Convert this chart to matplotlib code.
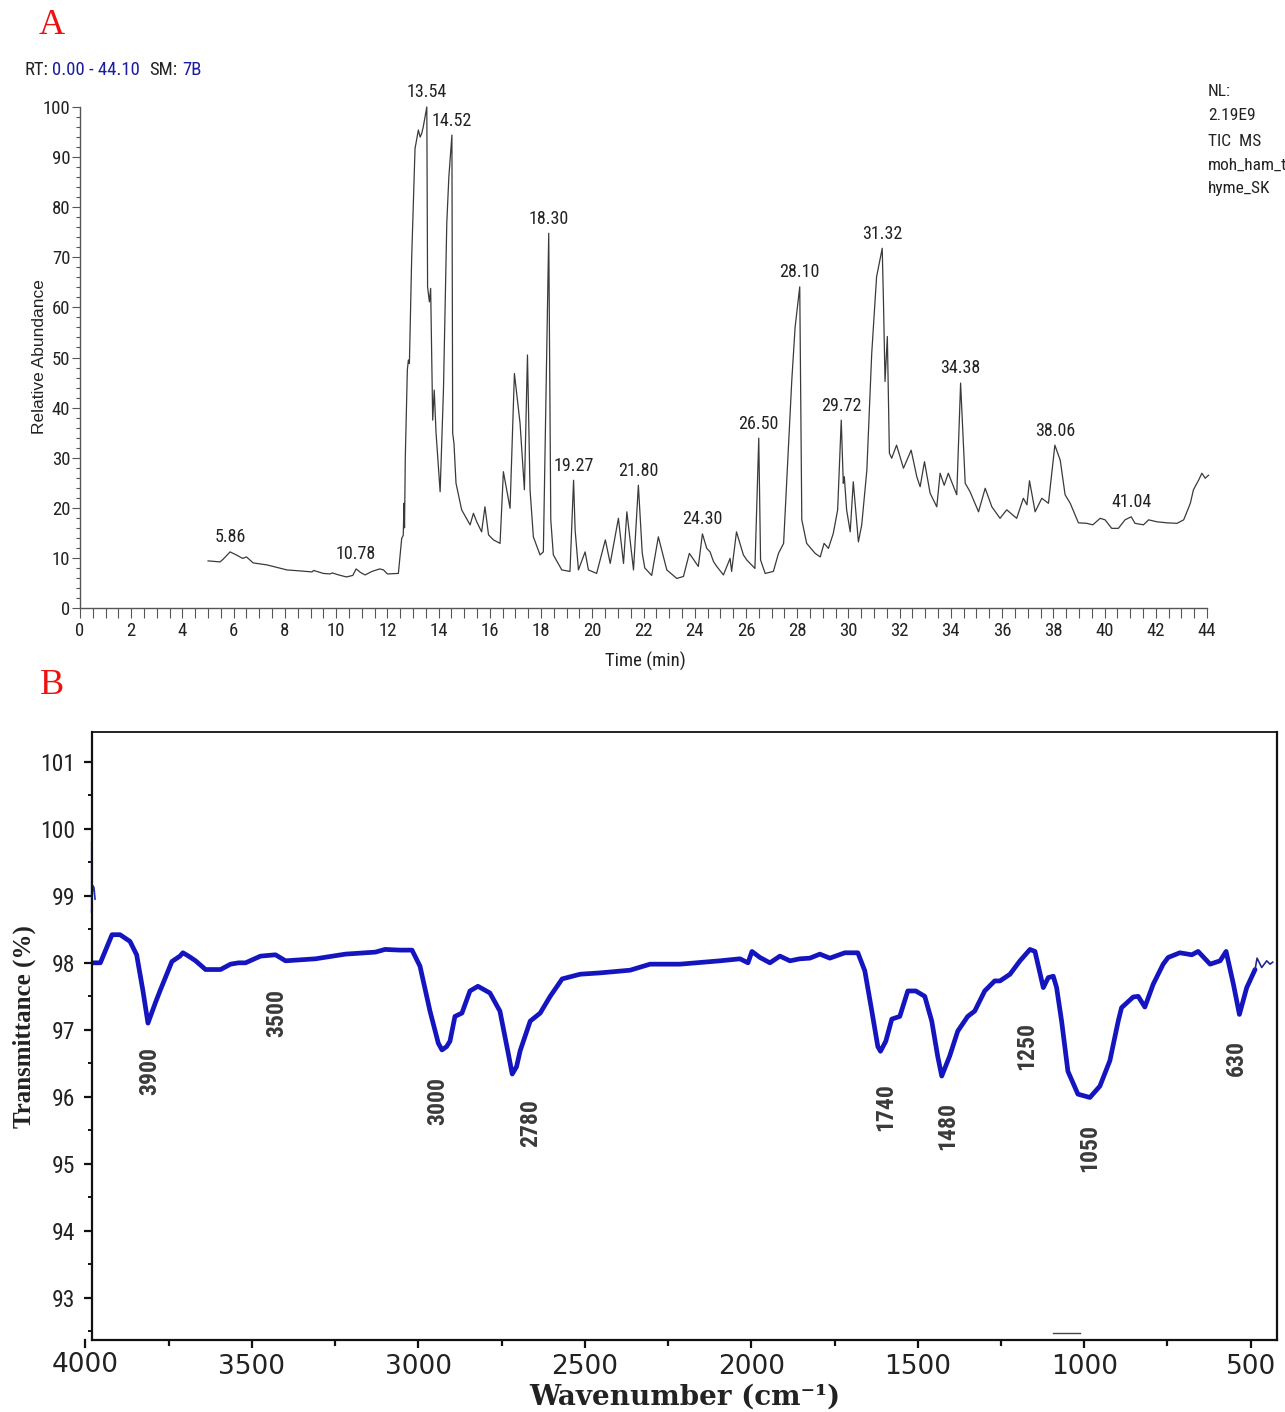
import matplotlib
matplotlib.use("Agg")
import matplotlib.pyplot as plt
from matplotlib.ticker import MultipleLocator, FixedLocator
from matplotlib import font_manager
from matplotlib.font_manager import FontProperties
import numpy as np

# ---------------- data: panel A (GC-MS TIC) ----------------
time_min = [5.00, 5.47, 5.60, 5.86, 6.10, 6.35, 6.50, 6.76, 7.30, 8.08, 8.60, 9.06, 9.12, 9.50,
            9.76, 9.85, 10.10, 10.40, 10.65, 10.78, 10.95, 11.13, 11.40, 11.70, 11.85, 12.00,
            12.43, 12.56, 12.62, 12.65, 12.67, 12.70, 12.78, 12.82, 12.86, 12.95, 13.08, 13.21,
            13.28, 13.34, 13.40, 13.54, 13.57, 13.64, 13.69, 13.77, 13.83, 13.90, 14.06, 14.19,
            14.32, 14.40, 14.52, 14.55, 14.60, 14.68, 14.90, 15.23, 15.36, 15.49, 15.68, 15.81,
            15.95, 16.14, 16.40, 16.53, 16.79, 16.96, 17.18, 17.35, 17.47, 17.57, 17.70, 17.96,
            18.09, 18.30, 18.38, 18.48, 18.81, 19.13, 19.27, 19.33, 19.46, 19.72, 19.85, 20.17,
            20.51, 20.70, 21.02, 21.22, 21.35, 21.61, 21.80, 21.95, 22.05, 22.32, 22.58, 22.91,
            23.30, 23.56, 23.79, 24.14, 24.30, 24.47, 24.60, 24.73, 24.86, 25.12, 25.38, 25.44,
            25.63, 25.90, 26.03, 26.22, 26.35, 26.50, 26.57, 26.75, 27.07, 27.27, 27.47, 27.66,
            27.79, 27.92, 28.10, 28.18, 28.37, 28.70, 28.90, 29.05, 29.22, 29.41, 29.58, 29.72,
            29.80, 29.84, 29.93, 30.07, 30.19, 30.39, 30.52, 30.72, 30.91, 31.10, 31.32, 31.37,
            31.43, 31.52, 31.60, 31.69, 31.88, 32.15, 32.45, 32.67, 32.80, 32.97, 33.19, 33.45,
            33.58, 33.74, 33.90, 34.23, 34.38, 34.56, 34.75, 35.08, 35.34, 35.60, 35.92, 36.18,
            36.57, 36.83, 36.97, 37.07, 37.29, 37.55, 37.81, 38.06, 38.27, 38.46, 38.66, 38.98,
            39.31, 39.54, 39.83, 40.02, 40.28, 40.54, 40.80, 41.04, 41.19, 41.52, 41.72, 42.05,
            42.44, 42.83, 43.09, 43.35, 43.47, 43.67, 43.80, 43.93, 44.06]
abundance = [9.4, 9.2, 9.8, 11.2, 10.6, 9.9, 10.2, 9.0, 8.6, 7.6, 7.4, 7.2, 7.5, 6.9,
             6.8, 7.0, 6.6, 6.2, 6.5, 7.8, 7.1, 6.6, 7.3, 7.8, 7.6, 6.8,
             6.9, 13.9, 14.5, 20.9, 16.0, 30.0, 47.5, 49.5, 48.8, 70.0, 91.7, 95.4,
             94.0, 94.7, 96.0, 100.0, 64.1, 61.1, 63.8, 37.5, 43.5, 35.0, 23.2, 43.5,
             76.8, 86.0, 94.4, 34.9, 32.9, 24.9, 19.6, 16.6, 18.9, 17.2, 15.2, 20.2,
             14.6, 13.6, 12.9, 27.2, 19.9, 46.8, 36.9, 23.6, 50.5, 23.6, 14.2, 10.6,
             11.2, 74.8, 17.6, 10.6, 7.6, 7.3, 25.5, 15.6, 7.6, 11.2, 7.6, 6.9,
             13.6, 8.9, 17.9, 8.9, 19.2, 7.6, 24.5, 11.0, 8.0, 6.5, 14.2, 7.6,
             5.9, 6.3, 10.9, 8.3, 14.8, 11.9, 11.2, 9.3, 8.3, 6.6, 9.9, 7.3,
             15.2, 10.6, 9.6, 8.6, 7.9, 33.9, 9.6, 6.9, 7.3, 10.9, 12.9, 32.2,
             45.5, 56.1, 64.1, 17.6, 12.9, 10.9, 10.2, 12.9, 11.9, 14.9, 19.6, 37.5,
             24.9, 26.2, 19.6, 15.2, 25.2, 13.2, 16.6, 27.5, 50.8, 66.1, 71.8, 60.8,
             45.2, 54.2, 30.9, 29.9, 32.5, 27.9, 31.5, 26.2, 24.2, 29.2, 22.9, 20.2,
             26.9, 24.5, 26.9, 22.6, 44.9, 24.9, 23.2, 19.2, 23.9, 20.2, 17.9, 19.6,
             17.9, 21.9, 20.6, 25.4, 19.2, 21.9, 20.9, 32.5, 29.5, 22.6, 20.9, 17.0,
             16.9, 16.6, 17.9, 17.6, 15.9, 15.9, 17.6, 18.2, 16.9, 16.6, 17.6, 17.2,
             17.0, 16.9, 17.6, 20.9, 23.6, 25.5, 26.9, 25.9, 26.5]
peak_labels = [5.86, 10.78, 13.54, 14.52, 18.30, 19.27, 21.80, 24.30, 26.50, 28.10,
               29.72, 31.32, 34.38, 38.06, 41.04]
a_xticks = list(range(0, 45, 2))
a_yticks = list(range(0, 101, 10))

# ---------------- data: panel B (FTIR) ----------------
wn_start = [3981, 3981, 3979, 3977, 3974, 3971]
tr_start = [99.80, 98.75, 99.05, 99.15, 99.12, 98.95]
wavenumber = [3981, 3955, 3930, 3920, 3896, 3866, 3846, 3827, 3812, 3790, 3776, 3740, 3716,
              3707, 3690, 3669, 3639, 3594, 3564, 3540, 3519, 3474, 3429, 3399, 3309, 3219,
              3129, 3100, 3055, 3019, 2995, 2965, 2940, 2929, 2915, 2905, 2890, 2869, 2845,
              2821, 2785, 2755, 2730, 2718, 2705, 2694, 2664, 2634, 2604, 2568, 2514, 2454,
              2364, 2304, 2214, 2094, 2034, 2010, 1998, 1974, 1944, 1914, 1884, 1854, 1824,
              1794, 1764, 1719, 1680, 1659, 1638, 1620, 1612, 1596, 1578, 1554, 1530, 1506,
              1479, 1458, 1440, 1428, 1404, 1380, 1350, 1329, 1299, 1269, 1253, 1223, 1193,
              1163, 1148, 1123, 1108, 1093, 1083, 1068, 1049, 1019, 983, 953, 923, 898, 888,
              853, 838, 818, 793, 763, 748, 713, 677, 658, 622, 592, 574, 552, 534, 512, 487]
transmittance = [98.00, 98.00, 98.30, 98.42, 98.42, 98.32, 98.12, 97.58, 97.10, 97.40, 97.58,
                 98.02, 98.10, 98.15, 98.10, 98.03, 97.90, 97.90, 97.98, 98.00, 98.00, 98.10,
                 98.12, 98.03, 98.06, 98.13, 98.16, 98.20, 98.19, 98.19, 97.95, 97.28, 96.80,
                 96.70, 96.75, 96.83, 97.20, 97.25, 97.58, 97.65, 97.55, 97.28, 96.65, 96.34,
                 96.45, 96.69, 97.13, 97.25, 97.50, 97.76, 97.83, 97.85, 97.89, 97.98, 97.98,
                 98.03, 98.06, 98.00, 98.17, 98.08, 98.00, 98.10, 98.03, 98.06, 98.07, 98.13,
                 98.07, 98.15, 98.15, 97.88, 97.28, 96.75, 96.68, 96.83, 97.16, 97.20, 97.58,
                 97.58, 97.50, 97.13, 96.60, 96.31, 96.61, 96.98, 97.20, 97.28, 97.58, 97.73,
                 97.73, 97.83, 98.03, 98.20, 98.17, 97.63, 97.78, 97.80, 97.63, 97.13, 96.38,
                 96.04, 95.99, 96.16, 96.54, 97.13, 97.33, 97.49, 97.50, 97.34, 97.68, 97.98,
                 98.08, 98.15, 98.12, 98.17, 97.98, 98.03, 98.17, 97.68, 97.23, 97.63, 97.90]
wn_tail = [487, 481, 467, 452, 442, 434]
tr_tail = [97.90, 98.07, 97.93, 98.03, 97.98, 98.01]
b_labels = ["3900", "3500", "3000", "2780", "1740", "1480", "1250", "1050", "630"]
b_label_x = [3806, 3425, 2943, 2664, 1595, 1409, 1172, 983, 542]
b_label_y = [96.39, 97.25, 95.94, 95.61, 95.84, 95.57, 96.76, 95.23, 96.58]
b_xticks = [3500, 3000, 2500, 2000, 1500, 1000, 500]
b_xtick_outside = 4000
b_yticks = [93, 94, 95, 96, 97, 98, 99, 100, 101]
mark_wn = [1094, 1013]
mark_tr = [92.48, 92.48]

# ---------------- fonts ----------------
COND_VALUES = {'condensed', 'semi-condensed', 'extra-condensed', 'ultra-condensed'}


def _weight(f):
    w = f.weight
    if isinstance(w, str):
        w = font_manager.weight_dict.get(w, 400)
    return int(w)


def find_condensed(bold=False):
    cands = []
    for f in font_manager.fontManager.ttflist:
        nm = f.name
        st = str(f.stretch)
        is_cond = (st in COND_VALUES) or ('Narrow' in nm) or ('Condensed' in nm)
        if not is_cond or f.style != 'normal':
            continue
        if 'Mono' in nm or 'Serif' in nm:
            continue
        w = _weight(f)
        if bold and w < 600:
            continue
        if not bold and not (350 <= w <= 500):
            continue
        if st in ('extra-condensed', 'ultra-condensed'):
            continue
        cands.append(f)
    prefs = ['Liberation Sans Narrow', 'Arimo', 'Roboto', 'Open Sans', 'Noto Sans', 'DejaVu Sans']
    for p in prefs:
        for f in cands:
            if f.name.startswith(p):
                return f.fname
    return cands[0].fname if cands else None


cond_path = find_condensed(False)
condb_path = find_condensed(True)


def FP(size, bold=False):
    path = condb_path if bold else cond_path
    if path:
        return FontProperties(fname=path, size=size)
    return FontProperties(family='Liberation Sans', size=size * 0.88,
                          weight='bold' if bold else 'normal')


W, H = 1285, 1412
fig = plt.figure(figsize=(W / 100, H / 100), dpi=100)
fig.patch.set_facecolor('white')


def fx(px):
    return px / W


def fy(py):
    return 1 - py / H


# ---------------- panel A ----------------
axA = fig.add_axes([fx(80), fy(608), (1207 - 80) / W, (608 - 107) / H])
axA.plot(time_min, abundance, color='#3a3a3a', lw=0.9, clip_on=False)
axA.set_xlim(0, 44)
axA.set_ylim(0, 100)
for s in ['top', 'right']:
    axA.spines[s].set_visible(False)
for s in ['left', 'bottom']:
    axA.spines[s].set_color('#555555')
    axA.spines[s].set_linewidth(1.0)
axA.xaxis.set_major_locator(FixedLocator(a_xticks))
axA.xaxis.set_minor_locator(MultipleLocator(0.5))
axA.yaxis.set_major_locator(FixedLocator(a_yticks))
axA.yaxis.set_minor_locator(MultipleLocator(2))
axA.tick_params(axis='x', which='both', direction='out', length=7, width=0.8,
                color='#555555', labelcolor='#222222', pad=3)
axA.tick_params(axis='y', which='major', direction='out', length=6, width=0.8,
                color='#555555', labelcolor='#222222', pad=1)
axA.tick_params(axis='y', which='minor', direction='out', length=3, width=0.8, color='#555555')
axA.set_xticklabels([str(v) for v in a_xticks], fontproperties=FP(13.5))
axA.set_yticklabels([str(v) for v in a_yticks], fontproperties=FP(13.5))

t_arr = np.array(time_min)
ab_arr = np.array(abundance)
for lab in peak_labels:
    i = int(np.argmin(np.abs(t_arr - lab)))
    axA.annotate(f"{lab:.2f}", xy=(lab, ab_arr[i]), xytext=(0, 4), textcoords='offset points',
                 ha='center', va='bottom', fontproperties=FP(13), color='#222222',
                 annotation_clip=False)

fig.text(fx(40), fy(357), 'Relative Abundance', rotation=90, ha='center', va='center',
         fontsize=12.5, family='Liberation Sans', color='#222222')
fig.text(fx(645), fy(661), 'Time (min)', ha='center', va='center', fontproperties=FP(13.5),
         color='#222222')

# header, pieces chained one after another
h1 = fig.text(fx(25), fy(70), 'RT:', ha='left', va='center', fontproperties=FP(13.5),
              color='#222222')
h2 = fig.text(fx(52), fy(70), '0.00 - 44.10', ha='left', va='center', fontproperties=FP(13.5),
              color='#1c1ca0')
h3 = fig.text(fx(137), fy(70), 'SM:', ha='left', va='center', fontproperties=FP(13.5),
              color='#222222')
h4 = fig.text(fx(166), fy(70), '7B', ha='left', va='center', fontproperties=FP(13.5),
              color='#1c1ca0')
fig.canvas.draw()
r = fig.canvas.get_renderer()
x_end = h2.get_window_extent(r).x1
h3.set_x((x_end + 9) / W)
x_end = h3.get_window_extent(r).x1
h4.set_x((x_end + 5) / W)

nl_lines = ['NL:', '2.19E9', 'TIC  MS', 'moh_ham_t', 'hyme_SK']
nl_y = [92, 115, 142, 165, 189]
for s, yy in zip(nl_lines, nl_y):
    fig.text(fx(1208), fy(yy), s, ha='left', va='center', fontproperties=FP(12.5),
             color='#222222')

# ---------------- panel B ----------------
axB = fig.add_axes([fx(91.7), fy(1340), (1276.7 - 91.7) / W, (1340 - 731.7) / H])
axB.plot(wn_start, tr_start, color='#2030c8', lw=1.2, clip_on=False)
axB.plot(wavenumber, transmittance, color='#1515c0', lw=3.4, solid_joinstyle='round',
         solid_capstyle='round')
axB.plot(wn_tail, tr_tail, color='#202a90', lw=1.2)
axB.plot(mark_wn, mark_tr, color='#444444', lw=1.0)
axB.set_xlim(3981, 422)
axB.set_ylim(92.37, 101.45)
for s in axB.spines.values():
    s.set_color('#111111')
    s.set_linewidth(1.6)
axB.spines['top'].set_linewidth(1.3)
axB.xaxis.set_major_locator(FixedLocator(b_xticks))
axB.xaxis.set_minor_locator(MultipleLocator(250))
axB.yaxis.set_major_locator(FixedLocator(b_yticks))
axB.yaxis.set_minor_locator(MultipleLocator(0.5))
axB.tick_params(axis='x', which='major', direction='out', length=6, width=1.6, color='#111111',
                pad=4)
axB.tick_params(axis='x', which='minor', direction='out', length=4, width=1.6, color='#111111')
axB.tick_params(axis='y', which='major', direction='out', length=6, width=1.6, color='#111111',
                pad=6, labelcolor='#222222')
axB.tick_params(axis='y', which='minor', direction='out', length=3, width=1.4, color='#111111')
xtick_fp = FontProperties(family='DejaVu Sans', size=19)
axB.set_xticklabels([str(v) for v in b_xticks], fontproperties=xtick_fp, color='#222222')
axB.set_yticklabels([str(v) for v in b_yticks], fontproperties=FP(17))

# the 4000 tick sits just left of the plotted range
axB.plot([b_xtick_outside, b_xtick_outside], [0, -0.012], color='#111111', lw=1.6,
         transform=axB.get_xaxis_transform(), clip_on=False)
axB.annotate(str(b_xtick_outside), xy=(b_xtick_outside, 0), xycoords=('data', 'axes fraction'),
             xytext=(0, -8.3), textcoords='offset points', ha='center', va='top',
             fontproperties=xtick_fp, color='#222222', annotation_clip=False)

for s, xx, yy in zip(b_labels, b_label_x, b_label_y):
    axB.text(xx, yy, s, rotation=90, ha='center', va='center', fontproperties=FP(17, bold=True),
             color='#3a3a3a')

fig.text(fx(24), fy(1027), 'Transmittance (%)', rotation=90, ha='center', va='center',
         fontsize=18, family='Liberation Serif', fontweight='bold', color='#222222')
fig.text(fx(685), fy(1397), 'Wavenumber (cm\u207b\u00b9)', ha='center', va='center',
         fontsize=20, family='DejaVu Serif', fontweight='bold', color='#222222')

# panel letters
fig.text(fx(52), fy(26), 'A', ha='center', va='center', fontsize=26, family='Liberation Serif',
         color='#ee1111')
fig.text(fx(52), fy(685), 'B', ha='center', va='center', fontsize=26, family='Liberation Serif',
         color='#ee1111')

fig.savefig('out.png', dpi=100, facecolor='white')
